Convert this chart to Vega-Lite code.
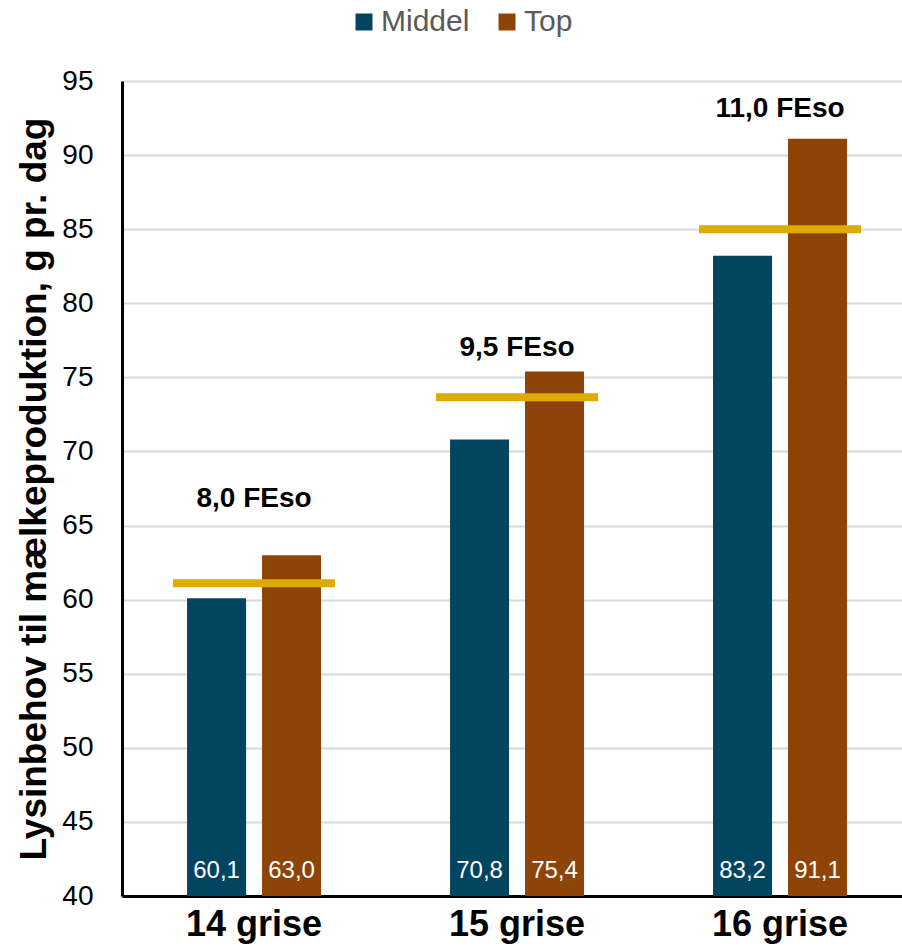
{
  "$schema": "https://vega.github.io/schema/vega-lite/v6.json",
  "autosize": "none",
  "width": 780,
  "height": 815,
  "padding": {"left": 122, "top": 81, "right": 0, "bottom": 52},
  "background": "white",
  "config": {
    "view": {"stroke": null},
    "font": "Liberation Sans",
    "locale": {"number": {"decimal": ",", "thousands": ".", "grouping": [3], "currency": ["", " kr."]}}
  },
  "datasets": {
    "bars": [
      {"group": "14 grise", "series": "Middel", "value": 60.1},
      {"group": "14 grise", "series": "Top", "value": 63.0},
      {"group": "15 grise", "series": "Middel", "value": 70.8},
      {"group": "15 grise", "series": "Top", "value": 75.4},
      {"group": "16 grise", "series": "Middel", "value": 83.2},
      {"group": "16 grise", "series": "Top", "value": 91.1}
    ],
    "req": [
      {"group": "14 grise", "need": 61.1, "label": "8,0 FEso", "labelY": 66.8},
      {"group": "15 grise", "need": 73.65, "label": "9,5 FEso", "labelY": 77.0},
      {"group": "16 grise", "need": 85.0, "label": "11,0 FEso", "labelY": 93.1}
    ]
  },
  "encoding": {
    "x": {
      "field": "group", "type": "nominal", "sort": null,
      "scale": {"paddingInner": 0.4905, "paddingOuter": 0.2282, "align": 0.542},
      "axis": {
        "title": null, "labelAngle": 0, "ticks": false, "grid": false,
        "domainColor": "#000000", "domainWidth": 3,
        "labelFont": "Liberation Sans", "labelFontSize": 36, "labelFontWeight": "bold",
        "labelColor": "#000000", "labelPadding": 11
      }
    }
  },
  "layer": [
    {
      "data": {"name": "bars"},
      "mark": {"type": "bar", "strokeWidth": 0},
      "encoding": {
        "xOffset": {"field": "series", "type": "nominal", "scale": {"paddingInner": 0.213, "paddingOuter": 0}},
        "y": {
          "field": "value", "type": "quantitative",
          "scale": {"domain": [40, 95], "zero": false, "nice": false},
          "axis": {
            "title": "Lysinbehov til mælkeproduktion, g pr. dag",
            "values": [40, 45, 50, 55, 60, 65, 70, 75, 80, 85, 90, 95],
            "ticks": false, "grid": true, "gridColor": "#d9d9d9", "gridWidth": 2,
            "domainColor": "#000000", "domainWidth": 3,
            "labelFont": "Liberation Sans", "labelFontSize": 28, "labelColor": "#000000", "labelPadding": 29,
            "titleFont": "Liberation Sans", "titleFontSize": 37, "titleFontWeight": "bold", "titleColor": "#000000",
            "titlePadding": 8
          }
        },
        "y2": {"datum": 40},
        "color": {
          "field": "series", "type": "nominal",
          "scale": {"domain": ["Middel", "Top"], "range": ["#034461", "#8E4407"]},
          "legend": {
            "title": null, "orient": "none", "direction": "horizontal",
            "legendX": 227, "legendY": -74, "padding": 0,
            "symbolType": "square", "symbolSize": 289, "symbolStrokeWidth": 0, "symbolOpacity": 1,
            "labelFont": "Liberation Sans", "labelFontSize": 30, "labelColor": "#595959",
            "labelOffset": 2, "columnPadding": 22
          }
        }
      }
    },
    {
      "data": {"name": "bars"},
      "mark": {"type": "text", "color": "#ffffff", "fontSize": 24, "baseline": "middle", "dy": -25, "font": "Liberation Sans"},
      "encoding": {
        "xOffset": {"field": "series", "type": "nominal"},
        "y": {"datum": 40},
        "text": {"field": "value", "type": "quantitative", "format": ".1f"}
      }
    },
    {
      "data": {"name": "req"},
      "mark": {"type": "tick", "orient": "horizontal", "size": 162, "thickness": 8, "color": "#E0AB00", "opacity": 1},
      "encoding": {
        "y": {"field": "need", "type": "quantitative"}
      }
    },
    {
      "data": {"name": "req"},
      "mark": {"type": "text", "fontSize": 28, "fontWeight": "bold", "baseline": "middle", "color": "#000000", "font": "Liberation Sans"},
      "encoding": {
        "y": {"field": "labelY", "type": "quantitative"},
        "text": {"field": "label", "type": "nominal"}
      }
    }
  ]
}
